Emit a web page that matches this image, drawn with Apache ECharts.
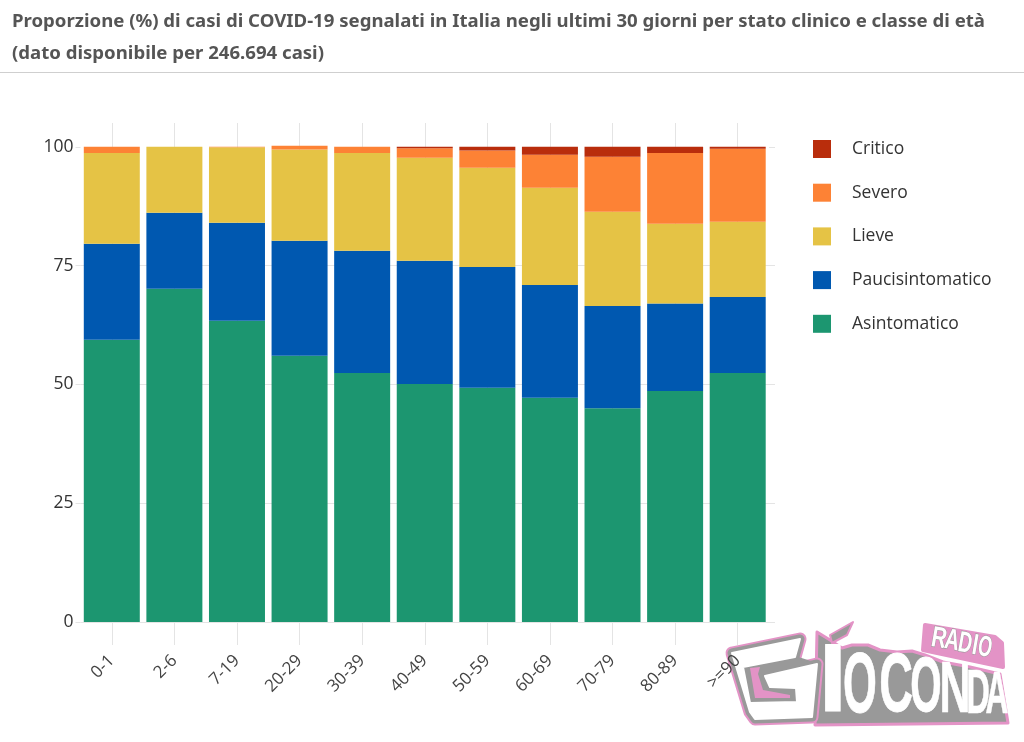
<!DOCTYPE html>
<html>
<head>
<meta charset="utf-8">
<title>Casi COVID-19 per stato clinico</title>
<script src="https://cdn.jsdelivr.net/npm/echarts@6/dist/echarts.min.js"></script>
<style>
  html, body { margin: 0; padding: 0; background: #fff; }
  #chart { width: 1024px; height: 742px; }
</style>
</head>
<body>
<div id="chart"></div>
<script>
const categories = ['0-1', '2-6', '7-19', '20-29', '30-39', '40-49', '50-59', '60-69', '70-79', '80-89', '>=90']
const asintomatico = [59.4, 70.1, 63.4, 56, 52.4, 50.1, 49.3, 47.2, 45, 48.6, 52.4]
const paucisintomatico = [20.2, 16, 20.6, 24.2, 25.7, 25.9, 25.4, 23.7, 21.5, 18.4, 16]
const lieve = [19.1, 13.9, 15.9, 19.2, 20.6, 21.7, 20.9, 20.5, 19.8, 16.8, 15.8]
const severo = [1.3, 0, 0.1, 0.8, 1.3, 2, 3.6, 6.9, 11.6, 14.9, 15.4]
const critico = [0, 0, 0, 0, 0, 0.3, 0.8, 1.7, 2.1, 1.3, 0.4]
const yTicks = [0, 25, 50, 75, 100]
const titleText = 'Proporzione (%) di casi di COVID-19 segnalati in Italia negli ultimi 30 giorni per stato clinico e classe di età\n(dato disponibile per 246.694 casi)'

const FONT = '"Open Sans", "Noto Sans", sans-serif'
const GRID_COLOR = '#e4e4e4'
const PINK = '#e393c6'
const GREY = '#999'

function stackBar (name, data, color) {
  return {
    name,
    type: 'bar',
    stack: 'casi',
    data,
    barWidth: 56,
    z: 2,
    itemStyle: { color },
    emphasis: { disabled: true }
  }
}

// pezzi del logo in basso a destra
function logoShape (points, fill, stroke, width) {
  return {
    type: 'polygon',
    silent: true,
    z: 0,
    shape: { points },
    style: { fill, stroke: stroke || null, lineWidth: width || 0, lineJoin: 'round' }
  }
}

// ink = larghezza del glifo a 100px, serve a scalarlo sulla larghezza voluta
function logoLetter (text, cx, cy, w, h, ink, rotation, outline) {
  return {
    type: 'text',
    silent: true,
    z: 0,
    x: cx,
    y: cy,
    scaleX: w / ink,
    scaleY: h / 72,
    rotation: rotation || 0,
    style: {
      text,
      fill: '#fff',
      stroke: outline || '#fff',
      lineWidth: outline ? 4 : 1,
      font: 'bold 100px "Liberation Sans Narrow", sans-serif',
      textAlign: 'center',
      textVerticalAlign: 'middle'
    }
  }
}

const gShape = [[732, 653], [800, 639], [795, 657], [743, 667], [750, 703], [797, 702], [796, 688], [770, 687], [765, 676], [817, 664], [812, 717], [755, 719], [750, 712]]
const gNotch = [[743, 667], [795, 657], [817, 664], [765, 676], [770, 687], [796, 688], [797, 702], [750, 703]]
const gPink = [[750, 668], [760, 667], [758, 674], [763, 690], [790, 695], [790, 698], [755, 698]]
const wordBack = [[817, 632], [830, 640], [842, 648], [852, 645], [868, 645], [880, 650], [897, 652], [912, 651], [925, 655], [943, 662], [970, 667], [1000, 674], [1008, 723], [815, 725]]
const leaf = [[830, 635], [853, 622], [847, 635], [832, 643]]
const radioTag = [[925, 625], [995, 637], [1002, 643], [1003, 667], [923, 650]]

const logo = [
  logoShape(wordBack, GREY, PINK, 3),
  logoShape(gShape, GREY, PINK, 13),
  logoShape(gShape, GREY, GREY, 9),
  logoShape(gNotch, GREY, GREY, 2),
  logoShape(gShape, '#fff', '#fff', 2),
  logoShape(gPink, PINK),
  logoShape(leaf, GREY, PINK, 2),
  logoLetter('I', 833, 684, 20, 70, 20),
  logoLetter('O', 860, 688, 27, 62, 62),
  logoLetter('C', 896, 688, 27, 60, 58),
  logoLetter('O', 926, 690, 25, 56, 62),
  logoLetter('N', 955, 692, 25, 52, 58),
  logoLetter('D', 978, 695, 19, 46, 58),
  logoLetter('A', 997, 697, 19, 42, 60),
  logoShape(radioTag, PINK, PINK, 4),
  logoLetter('R', 939, 639, 12, 21, 58, -0.17, GREY),
  logoLetter('A', 952, 641, 12, 21, 60, -0.17, GREY),
  logoLetter('D', 965, 644, 11, 21, 58, -0.17, GREY),
  logoLetter('I', 975, 646, 4, 21, 20, -0.17, GREY),
  logoLetter('O', 985, 648, 11, 21, 62, -0.17, GREY)
]

const chart = echarts.init(document.getElementById('chart'), null, { renderer: 'canvas' })
chart.setOption({
  animation: false,
  backgroundColor: '#fff',
  textStyle: { fontFamily: FONT },
  title: {
    text: titleText,
    left: 7,
    top: 1,
    textStyle: { fontFamily: '"Noto Sans", sans-serif', fontSize: 18.6, fontWeight: 'bold', color: '#555', lineHeight: 32 }
  },
  legend: {
    orient: 'vertical',
    left: 808,
    top: 135,
    itemWidth: 18,
    itemHeight: 18,
    itemGap: 25.7,
    icon: 'rect',
    data: ['Critico', 'Severo', 'Lieve', 'Paucisintomatico', 'Asintomatico'],
    selectedMode: false,
    textStyle: { fontFamily: FONT, fontSize: 17.5, color: '#333', padding: [0, 0, 0, 16] }
  },
  grid: { left: 80.5, right: 255, top: 123, bottom: 120 },
  xAxis: {
    type: 'category',
    data: categories,
    axisLine: { show: false },
    axisTick: { show: true, alignWithLabel: true, length: 23, lineStyle: { color: GRID_COLOR } },
    splitLine: { show: false },
    axisLabel: { rotate: 45, margin: 36, fontSize: 17, color: '#444', interval: 0, fontFamily: FONT }
  },
  yAxis: [
    {
      type: 'value',
      min: 0,
      max: 105,
      interval: 25,
      axisLine: { show: false },
      axisTick: { show: true, length: 5, lineStyle: { color: GRID_COLOR }, customValues: yTicks },
      splitLine: { show: true, showMaxLine: false, lineStyle: { color: GRID_COLOR } },
      axisLabel: {
        fontSize: 17.5,
        color: '#333',
        margin: 7,
        padding: [7, 0, 0, 0],
        fontFamily: FONT,
        customValues: yTicks
      }
    },
    {
      type: 'value',
      position: 'right',
      min: 0,
      max: 105,
      interval: 25,
      axisLine: { show: false },
      axisTick: { show: true, length: 6, lineStyle: { color: GRID_COLOR }, customValues: yTicks },
      splitLine: { show: false },
      axisLabel: { show: false }
    }
  ],
  series: [
    {
      // linee verticali sui centri delle classi, dietro le barre
      name: 'griglia',
      type: 'line',
      data: [],
      silent: true,
      markLine: {
        silent: true,
        z: 1,
        symbol: 'none',
        animation: false,
        label: { show: false },
        lineStyle: { color: GRID_COLOR, type: 'solid', width: 1 },
        data: categories.map((c) => ({ xAxis: c }))
      }
    },
    stackBar('Asintomatico', asintomatico, '#1c9670'),
    stackBar('Paucisintomatico', paucisintomatico, '#0058b0'),
    stackBar('Lieve', lieve, '#e5c345'),
    stackBar('Severo', severo, '#fd8235'),
    stackBar('Critico', critico, '#b92d0c')
  ],
  graphic: [
    { type: 'rect', silent: true, z: 0, shape: { x: 0, y: 72, width: 1024, height: 1 }, style: { fill: '#cfcfcf' } }
  ].concat(logo)
})
</script>
</body>
</html>
